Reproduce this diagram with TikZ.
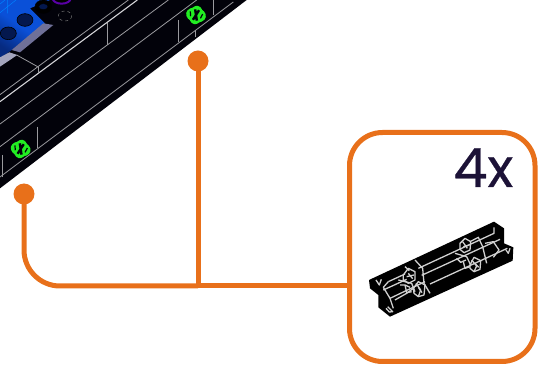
\documentclass[tikz,border=0pt]{standalone}
\usepackage{fontspec}
\setmainfont{Poppins}
\newfontfamily\qtyfont[FakeBold=0.5]{Poppins}
\definecolor{callout}{HTML}{E8701A}
\definecolor{ink}{HTML}{1C1237}
\definecolor{edge}{HTML}{9A9A9E}
\definecolor{edgebright}{HTML}{D4D4D8}
\definecolor{plate}{HTML}{02020A}
\definecolor{bluebright}{HTML}{0A50D8}
\definecolor{bluedark}{HTML}{062A80}
\definecolor{studblue}{HTML}{04184E}
\definecolor{strip}{HTML}{6F7098}
\definecolor{stripb}{HTML}{A4A5BE}
\definecolor{hole}{HTML}{22EE22}
\definecolor{barline}{HTML}{D0D0D0}
\tikzset{
  lead/.style={draw=callout,line width=5pt},
  dotmark/.style={circle,fill=callout,inner sep=0pt,minimum size=21pt,outer sep=0pt},
  partbox/.style={draw=callout,line width=5pt,rounded corners=33pt,minimum width=185.5pt,minimum height=229pt,inner sep=0pt,outer sep=0pt},
  qty/.style={text=ink,font=\qtyfont\fontsize{54}{54}\selectfont,inner sep=0pt,anchor=base east},
  sceneline/.style={draw=edge,line width=0.8pt},
  scenebright/.style={draw=edgebright,line width=1.1pt},
  barstroke/.style={draw=barline,line width=1.3pt,line join=round},
  stud/.style={fill=studblue,draw=black,line width=0.6pt},
}
\begin{document}
\begin{tikzpicture}[x=1pt,y=-1pt]
\useasboundingbox (0,0) rectangle (539,366);
\begin{scope}
\clip (0,0) rectangle (539,366);
% plate, coordinates are 3x zoom
\begin{scope}[x=0.33333pt,y=-0.33333pt]
\fill[plate] (0,0) -- (740,0) -- (0,565) -- cycle;
% blue studded area
\shade[bottom color=bluedark,top color=bluebright,shading angle=-35,middle color=bluebright]
  (0,0) -- (150,0) -- (90,25) -- (135,70) -- (35,150) -- (0,175) -- cycle;
\draw[blue!50!cyan,line width=0.5pt] (22,0) -- (22,40) (0,38) -- (48,0) (0,12) -- (15,0);
\draw[stud] (25,100) ellipse (24 and 19);
\draw[stud] (75,60) ellipse (24 and 19);
\draw[fill=black,draw=black] (130,20) ellipse (25 and 20);
\draw[fill=studblue,draw=black] (130,20) ellipse (14 and 9);
\draw[fill=black,draw=violet!70!blue,line width=2pt] (185,-5) ellipse (27 and 16);
\draw[draw=black!55!white,line width=0.5pt,dashed] (195,48) ellipse (20 and 15);
\fill[strip] (35,150) -- (130,70) -- (160,75) -- (60,157) -- cycle;
\fill[stripb] (0,172) -- (28,157) -- (52,165) -- (0,200) -- cycle;
% long lines
\draw[sceneline] (0,284) -- (385,0);
\draw[scenebright] (0,305) -- (412,0);
\draw[sceneline] (0,372) -- (505,0);
\draw[sceneline] (0,440) -- (590,0);
\draw[sceneline] (0,531) -- (700,6);
% ticks
\draw[sceneline] (113,380) -- (113,445);
\draw[sceneline] (535,60) -- (535,125);
\draw[sceneline] (323,70) -- (323,135);
\draw[sceneline] (8,465) -- (8,530);
\draw[sceneline] (640,0) -- (640,45);
\draw[sceneline] (115,200) -- (115,220);
\draw[sceneline] (50,165) -- (113,200);
\draw[sceneline] (587,90) -- (587,110);
% green holes
\foreach \cx/\cy in {62/447,588/45}{
  \begin{scope}[shift={(\cx,\cy)},rotate=-12]
    \fill[hole] (0,0) ellipse (30 and 22);
    \fill[hole] (0,0) ellipse (20 and 28);
    \draw[plate,line width=2.4pt] (-6,-16) -- (6,16) (6,-16) -- (-6,16);
    \draw[plate,line width=1.2pt] (-19,-7) -- (-15,7) (19,-7) -- (15,7);
  \end{scope}
}
\end{scope}
% connector part
\node[partbox] (box) at (442.25,247) {};
\node[qty] (count) at (513.5,187) {4x};
\coordinate (junction) at (198,286);
\node[dotmark] (dotright) at (198,61) {};
\node[dotmark] (dotleft) at (24,194) {};
\draw[lead] (dotright.center) -- (junction);
\draw[lead,rounded corners=36pt] (dotleft.center) |- (junction);
\draw[lead] (junction) -- (box.west |- junction);
% bar, coordinates are 3x zoom from (350,200)
\begin{scope}[shift={(350,200)},x=0.33333pt,y=-0.33333pt]
\fill[black] (57,240) -- (432,65) -- (462,85) -- (462,130) -- (490,142) -- (488,182) -- (120,350) -- (85,322) -- (85,285) -- (60,265) -- cycle;
% long edges
\draw[barstroke] (432,82) -- (432,100) -- (205,205);
\draw[barstroke] (472,145) -- (240,252);
\draw[barstroke] (215,226) -- (450,118);
\draw[barstroke] (115,245) -- (165,222);
\draw[barstroke] (120,295) -- (225,245);
\draw[barstroke] (100,270) -- (170,238);
% left end
\draw[barstroke] (115,245) -- (100,262) -- (120,295) -- (130,325);
\draw[barstroke] (78,240) -- (88,255) -- (94,238);
\draw[barstroke] (108,325) -- (118,336) -- (128,335) -- (113,320);
% right end
\draw[barstroke] (405,130) -- (430,125) -- (447,150) -- (430,172);
\draw[barstroke] (468,150) -- (475,160) -- (480,145);
% left cluster
\draw[barstroke] (160,225) -- (175,205) -- (195,215) -- (195,240) -- (175,250) -- (160,240) -- cycle;
\draw[barstroke] (190,265) -- (205,245) -- (225,255) -- (222,285) -- (205,290) -- (192,280) -- cycle;
\draw[barstroke] (145,240) -- (185,250) -- (195,275);
\draw[barstroke] (135,300) -- (170,280) -- (190,265);
\draw[barstroke] (195,180) -- (218,205) -- (222,250) -- (240,280);
\draw[barstroke] (165,255) -- (170,278) -- (185,275);
\draw[barstroke] (175,220) -- (188,236);
\draw[barstroke] (165,200) -- (178,212);
\draw[barstroke] (205,262) -- (216,278);
\draw[barstroke] (150,255) -- (165,255) -- (180,262);
\draw[barstroke] (170,230) -- (192,225);
\draw[barstroke] (198,250) -- (212,270) -- (205,290);
% right cluster
\draw[barstroke] (330,130) -- (345,115) -- (362,125) -- (360,150) -- (342,158) -- (330,148) -- cycle;
\draw[barstroke] (360,195) -- (372,172) -- (392,182) -- (390,208) -- (372,215) -- (360,205) -- cycle;
\draw[barstroke] (315,160) -- (350,170) -- (362,195);
\draw[barstroke] (360,125) -- (385,112) -- (398,140) -- (410,190);
\draw[barstroke] (320,175) -- (332,187) -- (348,180);
\draw[barstroke] (338,125) -- (352,145);
\draw[barstroke] (375,190) -- (386,202);
\draw[barstroke] (340,185) -- (345,205) -- (360,200);
\draw[barstroke] (340,140) -- (358,135);
\draw[barstroke] (365,180) -- (380,198) -- (372,215);
\end{scope}
\end{scope}
\end{tikzpicture}
\end{document}
